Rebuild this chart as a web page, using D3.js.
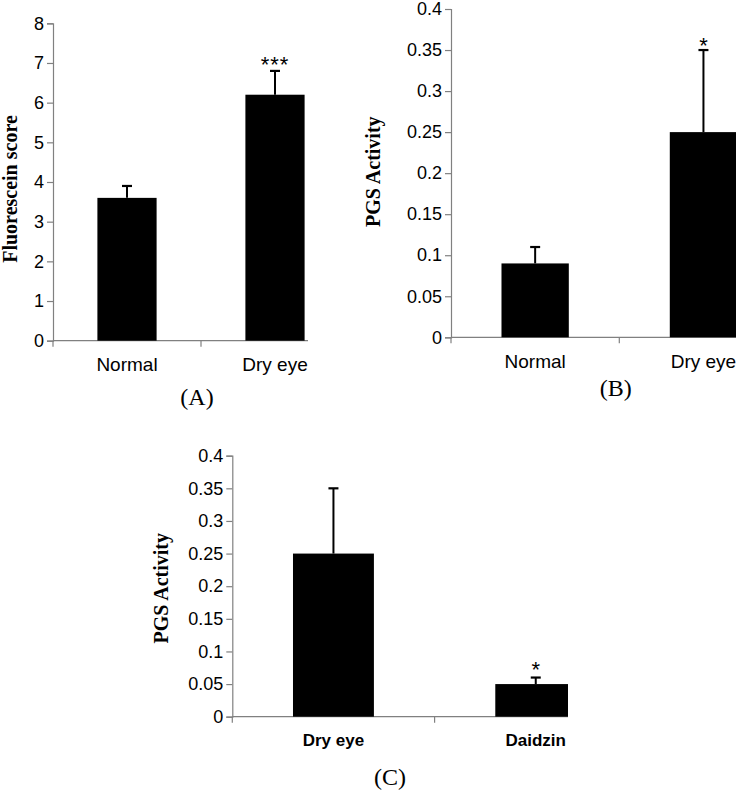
<!DOCTYPE html>
<html>
<head>
<meta charset="utf-8">
<script src="https://cdn.jsdelivr.net/npm/d3@7"></script>
<style>
  html, body { margin: 0; padding: 0; background: #fff; }
  svg { display: block; }
</style>
</head>
<body>
<svg id="chart" width="736" height="790"></svg>
<script>
// ---------- data ----------
const catsA = ["Normal", "Dry eye"];
const valuesA = [3.6, 6.2];
const errorsA = [0.3, 0.6];
const starsA = ["", "***"];
const ticksA = [0, 1, 2, 3, 4, 5, 6, 7, 8];

const catsB = ["Normal", "Dry eye"];
const valuesB = [0.09, 0.25];
const errorsB = [0.02, 0.10];
const starsB = ["", "*"];
const ticksB = [0, 0.05, 0.1, 0.15, 0.2, 0.25, 0.3, 0.35, 0.4];

const catsC = ["Dry eye", "Daidzin"];
const valuesC = [0.25, 0.05];
const errorsC = [0.10, 0.01];
const starsC = ["", "*"];
const ticksC = [0, 0.05, 0.1, 0.15, 0.2, 0.25, 0.3, 0.35, 0.4];

const panelTitles = ["(A)", "(B)", "(C)"];
const yTitles = ["Fluorescein score", "PGS Activity", "PGS Activity"];

// ---------- layout ----------
const svg = d3.select("#chart");
const SANS = "'Liberation Sans', Arial, sans-serif";
const SERIF = "'Liberation Serif', 'Times New Roman', serif";

const panels = [
  { id: "A", cats: catsA, vals: valuesA, errs: errorsA, stars: starsA, ticks: ticksA,
    ymax: 8, ax: 53, step: 148, yTop: 23.3, yBot: 340.7, clipR: 308,
    fmt: d => d3.format("d")(d), catBold: false, catY: 371,
    yTitle: yTitles[0], ytx: 17, yty: 189,
    title: panelTitles[0], tx: 197, ty: 405, starOff: 1 },
  { id: "B", cats: catsB, vals: valuesB, errs: errorsB, stars: starsB, ticks: ticksB,
    ymax: 0.4, ax: 451, step: 168.3, yTop: 9, yBot: 337.3, clipR: 736,
    fmt: d => String(+d.toFixed(2)), catBold: false, catY: 368,
    yTitle: yTitles[1], ytx: 380, yty: 171.7,
    title: panelTitles[1], tx: 615.7, ty: 396, starOff: 3 },
  { id: "C", cats: catsC, vals: valuesC, errs: errorsC, stars: starsC, ticks: ticksC,
    ymax: 0.4, ax: 232.3, step: 202.3, yTop: 455.7, yBot: 716.7, clipR: 568,
    fmt: d => String(+d.toFixed(2)), catBold: true, catY: 746,
    yTitle: yTitles[2], ytx: 168, yty: 588.3,
    title: panelTitles[2], tx: 390, ty: 785, starOff: -1 }
];

const defs = svg.append("defs");

panels.forEach(p => {
  defs.append("clipPath").attr("id", "clip" + p.id)
    .append("rect").attr("x", 0).attr("y", 0).attr("width", p.clipR).attr("height", 790);

  const g = svg.append("g").attr("clip-path", `url(#clip${p.id})`);

  const x = d3.scaleBand().domain(p.cats)
    .range([p.ax, p.ax + 2 * p.step])
    .paddingInner(0.6).paddingOuter(0.3);
  const y = d3.scaleLinear().domain([0, p.ymax]).range([p.yBot, p.yTop]);

  // y axis
  const yAxis = d3.axisLeft(y).tickValues(p.ticks).tickFormat(p.fmt).tickSizeOuter(0).tickSize(6).tickPadding(3);
  const gy = g.append("g").attr("transform", `translate(${p.ax},0)`).call(yAxis);
  gy.select(".domain").attr("stroke", "#808080").attr("stroke-width", 1.2);
  gy.selectAll(".tick line").attr("stroke", "#808080").attr("stroke-width", 1.2);
  gy.selectAll(".tick text").attr("font-family", SANS).attr("font-size", 18).attr("fill", "#000");

  // x axis line with ticks at band boundaries
  const xr = x.range();
  g.append("line")
    .attr("x1", xr[0]).attr("x2", xr[1])
    .attr("y1", y(0)).attr("y2", y(0))
    .attr("stroke", "#808080").attr("stroke-width", 1.2);
  const bounds = [0, 1, 2].map(i => xr[0] + i * x.step());
  g.selectAll(".xtick").data(bounds).enter().append("line")
    .attr("x1", d => d).attr("x2", d => d)
    .attr("y1", y(0)).attr("y2", y(0) + 6)
    .attr("stroke", "#808080").attr("stroke-width", 1.2);

  // category labels
  g.selectAll(".cat").data(p.cats).enter().append("text")
    .attr("x", d => x(d) + x.bandwidth() / 2)
    .attr("y", p.catY)
    .attr("text-anchor", "middle")
    .attr("font-family", SANS)
    .attr("font-size", p.catBold ? 17 : 19)
    .attr("font-weight", p.catBold ? "bold" : "normal")
    .text(d => d);

  // bars
  g.selectAll(".bar").data(p.cats).enter().append("rect")
    .attr("x", d => x(d))
    .attr("width", x.bandwidth())
    .attr("y", (d, i) => y(p.vals[i]))
    .attr("height", (d, i) => y(0) - y(p.vals[i]))
    .attr("fill", "#000");

  // error bars (upper only)
  p.cats.forEach((c, i) => {
    const cx = x(c) + x.bandwidth() / 2;
    const top = y(p.vals[i] + p.errs[i]);
    g.append("line").attr("x1", cx).attr("x2", cx)
      .attr("y1", y(p.vals[i])).attr("y2", top)
      .attr("stroke", "#000").attr("stroke-width", 2);
    g.append("line").attr("x1", cx - 5).attr("x2", cx + 5)
      .attr("y1", top).attr("y2", top)
      .attr("stroke", "#000").attr("stroke-width", 2.2);
    if (p.stars[i]) {
      g.append("text").attr("x", cx).attr("y", top + p.starOff)
        .attr("text-anchor", "middle")
        .attr("font-family", SANS).attr("font-size", 22)
        .attr("letter-spacing", p.stars[i].length > 1 ? 1 : 0)
        .text(p.stars[i]);
    }
  });

  // y title
  g.append("text")
    .attr("transform", `translate(${p.ytx},${p.yty}) rotate(-90)`)
    .attr("text-anchor", "middle")
    .attr("font-family", SERIF).attr("font-weight", "bold").attr("font-size", 20)
    .text(p.yTitle);

  // panel title
  svg.append("text")
    .attr("x", p.tx).attr("y", p.ty)
    .attr("text-anchor", "middle")
    .attr("font-family", SERIF).attr("font-size", 24)
    .text(p.title);
});
</script>
</body>
</html>
